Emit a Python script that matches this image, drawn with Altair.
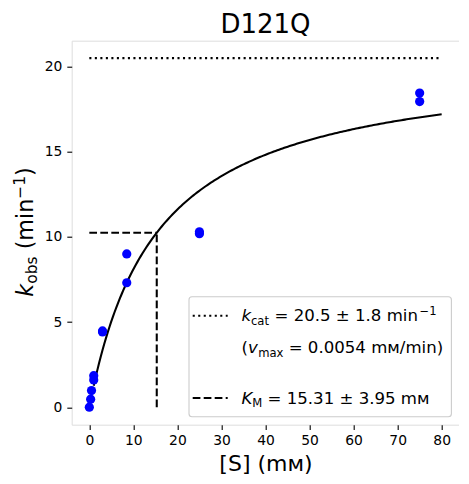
import altair as alt
import numpy as np
import pandas as pd

# ---- data ----
S_mM = [0, 0.3, 0.5, 1, 1, 3, 3, 8.5, 8.5, 25, 25, 75, 75]
k_obs = [0, 0.47, 0.98, 1.6, 1.85, 4.42, 4.48, 7.31, 9.0, 10.19, 10.3, 17.95, 18.45]

kcat = 20.5
KM = 15.31
S_max = 80
x_ticks = [0, 10, 20, 30, 40, 50, 60, 70, 80]
y_ticks = [0, 5, 10, 15, 20]
title_text = "D121Q"

FONT = "DejaVu Sans"

pts = pd.DataFrame({"S": S_mM, "k": k_obs})
s_grid = np.linspace(1, S_max, 200)
fit = pd.DataFrame({"S": s_grid, "k": kcat * s_grid / (KM + s_grid)})
kcat_line = pd.DataFrame({"x": [0], "x2": [S_max], "y": [kcat]})
km_h = pd.DataFrame({"x": [0], "x2": [KM], "y": [kcat / 2]})
km_v = pd.DataFrame({"x": [KM], "y": [0], "y2": [kcat / 2]})

xs = alt.Scale(domain=[-4, 84], nice=False, zero=False)
ys = alt.Scale(domain=[-1.025, 21.525], nice=False, zero=False)

xaxis = alt.Axis(values=x_ticks, title="[S] (mᴍ)", titleFont=FONT, titleFontSize=22,
                 titleFontWeight="normal", titleColor="black", titleBaseline="alphabetic",
                 titleY=46, titleX=193.8, titleAnchor="middle",
                 labelFont=FONT, labelFontSize=13.9, labelColor="black", labelPadding=4,
                 tickSize=4.9, tickWidth=1.1, tickColor="black", domain=False, grid=False,
                 labelFlush=False)
yaxis = alt.Axis(values=y_ticks, title=None,
                 labelFont=FONT, labelFontSize=13.9, labelColor="black", labelPadding=4.9,
                 tickSize=4.9, tickWidth=1.1, tickColor="black", domain=False, grid=False,
                 labelFlush=False)

base_x = alt.X("S:Q", scale=xs, axis=xaxis)
base_y = alt.Y("k:Q", scale=ys, axis=yaxis)

fit_line = alt.Chart(fit).mark_line(color="black", strokeWidth=2.08).encode(x=base_x, y=base_y)

dotted = alt.Chart(kcat_line).mark_rule(color="black", strokeWidth=2.08, strokeDash=[2.08, 3.43]).encode(
    x=alt.X("x:Q", scale=xs), x2="x2:Q", y=alt.Y("y:Q", scale=ys))
dash_h = alt.Chart(km_h).mark_rule(color="black", strokeWidth=2.08, strokeDash=[7.7, 3.3]).encode(
    x=alt.X("x:Q", scale=xs), x2="x2:Q", y=alt.Y("y:Q", scale=ys))
dash_v = alt.Chart(km_v).mark_rule(color="black", strokeWidth=2.08, strokeDash=[7.7, 3.3]).encode(
    x=alt.X("x:Q", scale=xs), y=alt.Y("y:Q", scale=ys), y2="y2:Q")

points = alt.Chart(pts).mark_point(filled=True, color="blue", opacity=1, size=85).encode(x=base_x, y=base_y)

one = alt.Data(values=[{"a": 1}])


def txt(text, x, y, size, italic=False, angle=0, align="left"):
    kw = dict(text=text, font=FONT, fontSize=size, color="black", align=align,
              baseline="alphabetic")
    if italic:
        kw["fontStyle"] = "italic"
    if angle:
        kw["angle"] = angle
    return alt.Chart(one).mark_text(**kw).encode(x=alt.value(x), y=alt.value(y))


# legend box
legend_box = alt.Chart(one).mark_rect(fill="white", fillOpacity=0.8, stroke="#cccccc",
                                      strokeWidth=1.1, cornerRadius=3).encode(
    x=alt.value(117.3), x2=alt.value(379.7), y=alt.value(256), y2=alt.value(376))
leg_dot = alt.Chart(one).mark_rule(color="black", strokeWidth=2.08, strokeDash=[2.08, 3.43]).encode(
    x=alt.value(121), x2=alt.value(156), y=alt.value(275))
leg_dash = alt.Chart(one).mark_rule(color="black", strokeWidth=2.08, strokeDash=[7.7, 3.3]).encode(
    x=alt.value(121), x2=alt.value(156), y=alt.value(357.3))

L = 16.6
Ls = 11.6
r1, r2, r4 = 280.7, 312.7, 363.3
legend_txt = [
    txt("k", 169.7, r1, L, italic=True),
    txt("cat", 179.3, r1 + 3.5, Ls),
    txt("= 20.5 ± 1.8 min", 202.8, r1, L),
    txt("−1", 347.8, r1 - 6.5, Ls),
    txt("(", 169.7, r2, L),
    txt("v", 176.2, r2, L, italic=True),
    txt("max", 186.5, r2 + 3.5, Ls),
    txt("= 0.0054 mᴍ/min)", 217.0, r2, L),
    txt("K", 169.7, r4, L, italic=True),
    txt("M", 180.6, r4 + 3.5, Ls),
    txt("= 15.31 ± 3.95 mᴍ", 195.9, r4, L),
]

# y-axis title, rotated pieces
Y = 22.2
Ys = 15.5
bx = -39
ylab = [
    txt("k", bx, 256.0, Y, italic=True, angle=270),
    txt("obs", bx + 4.5, 243.1, Ys, angle=270),
    txt("(min", bx, 208.6, Y, angle=270),
    txt("−1", bx - 8, 158.1, Ys, angle=270),
    txt(")", bx, 135.3, Y, angle=270),
]

title = txt(title_text, 193.8, -7.4, 26, align="center")

chart = alt.layer(
    fit_line, dotted, dash_h, dash_v, points, legend_box, leg_dot, leg_dash, *legend_txt, *ylab, title
).properties(
    width=387.6, height=384,
    autosize=alt.AutoSizeParams(type="none"),
    padding={"left": 63.7, "top": 32.7, "right": 0, "bottom": 51},
).configure_view(stroke="black", strokeWidth=1.1).configure(background="white")

chart.save("out.html", embed_options={"renderer": "svg", "actions": False})
